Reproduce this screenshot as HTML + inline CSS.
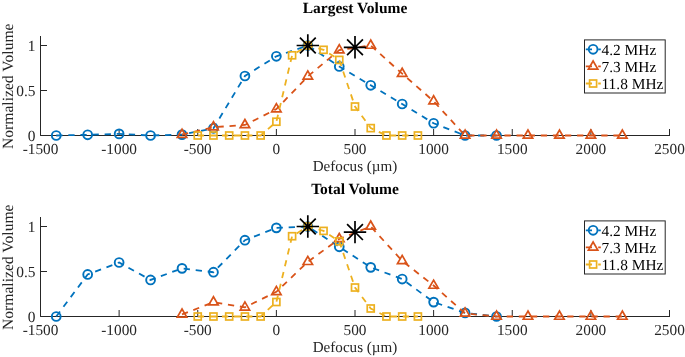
<!DOCTYPE html>
<html><head><meta charset="utf-8"><style>
html,body{margin:0;padding:0;background:#fff;}
svg{display:block;will-change:transform;}
text{text-rendering:geometricPrecision;font-family:"Liberation Serif", serif;font-size:14.7px;fill:#262626;}
</style></head><body>
<svg width="685" height="357" viewBox="0 0 685 357">
<rect width="685" height="357" fill="#fff"/>
<path d="M40.5,36.50V135.5H669.5" fill="none" stroke="#262626" stroke-width="1" stroke-linecap="square"/>
<path d="M40.5,135.5h6.5" stroke="#262626" stroke-width="1"/>
<path d="M40.5,90.5h6.5" stroke="#262626" stroke-width="1"/>
<path d="M40.5,45.5h6.5" stroke="#262626" stroke-width="1"/>
<path d="M40.50,135.5v-6.5" stroke="#262626" stroke-width="1"/>
<path d="M119.12,135.5v-6.5" stroke="#262626" stroke-width="1"/>
<path d="M197.75,135.5v-6.5" stroke="#262626" stroke-width="1"/>
<path d="M276.38,135.5v-6.5" stroke="#262626" stroke-width="1"/>
<path d="M355.00,135.5v-6.5" stroke="#262626" stroke-width="1"/>
<path d="M433.62,135.5v-6.5" stroke="#262626" stroke-width="1"/>
<path d="M512.25,135.5v-6.5" stroke="#262626" stroke-width="1"/>
<path d="M590.88,135.5v-6.5" stroke="#262626" stroke-width="1"/>
<path d="M669.50,135.5v-6.5" stroke="#262626" stroke-width="1"/>
<text x="35.50" y="140.60" text-anchor="end" style="font-size:15.4px">0</text>
<text x="35.50" y="95.60" text-anchor="end" style="font-size:15.4px">0.5</text>
<text x="35.50" y="50.60" text-anchor="end" style="font-size:15.4px">1</text>
<text x="40.50" y="153.50" text-anchor="middle" style="font-size:15.3px">-1500</text>
<text x="119.12" y="153.50" text-anchor="middle" style="font-size:15.3px">-1000</text>
<text x="197.75" y="153.50" text-anchor="middle" style="font-size:15.3px">-500</text>
<text x="276.38" y="153.50" text-anchor="middle" style="font-size:15.3px">0</text>
<text x="355.00" y="153.50" text-anchor="middle" style="font-size:15.3px">500</text>
<text x="433.62" y="153.50" text-anchor="middle" style="font-size:15.3px">1000</text>
<text x="512.25" y="153.50" text-anchor="middle" style="font-size:15.3px">1500</text>
<text x="590.88" y="153.50" text-anchor="middle" style="font-size:15.3px">2000</text>
<text x="669.50" y="153.50" text-anchor="middle" style="font-size:15.3px">2500</text>
<text x="355.00" y="171.20" text-anchor="middle" style="font-size:15.1px">Defocus (&#181;m)</text>
<text transform="translate(13.05,86.25) rotate(-90)" text-anchor="middle" style="font-size:15.6px">Normalized Volume</text>
<text x="355.00" y="12.70" text-anchor="middle" font-weight="bold" style="font-size:15.5px;fill:#000">Largest Volume</text>
<polyline points="56.23,135.50 87.67,134.78 119.12,133.88 150.57,135.50 182.03,134.60 213.47,128.30 244.93,76.01 276.38,56.30 307.82,45.50 339.27,66.47 370.73,85.28 402.18,104.00 433.62,123.26 465.07,135.50 496.52,135.50" fill="none" stroke="#0072BD" stroke-width="1.8" stroke-dasharray="6.3,5.8"/>
<circle cx="56.23" cy="135.50" r="4.4" fill="none" stroke="#0072BD" stroke-width="1.9"/>
<circle cx="87.67" cy="134.78" r="4.4" fill="none" stroke="#0072BD" stroke-width="1.9"/>
<circle cx="119.12" cy="133.88" r="4.4" fill="none" stroke="#0072BD" stroke-width="1.9"/>
<circle cx="150.57" cy="135.50" r="4.4" fill="none" stroke="#0072BD" stroke-width="1.9"/>
<circle cx="182.03" cy="134.60" r="4.4" fill="none" stroke="#0072BD" stroke-width="1.9"/>
<circle cx="213.47" cy="128.30" r="4.4" fill="none" stroke="#0072BD" stroke-width="1.9"/>
<circle cx="244.93" cy="76.01" r="4.4" fill="none" stroke="#0072BD" stroke-width="1.9"/>
<circle cx="276.38" cy="56.30" r="4.4" fill="none" stroke="#0072BD" stroke-width="1.9"/>
<circle cx="307.82" cy="45.50" r="4.4" fill="none" stroke="#0072BD" stroke-width="1.9"/>
<circle cx="339.27" cy="66.47" r="4.4" fill="none" stroke="#0072BD" stroke-width="1.9"/>
<circle cx="370.73" cy="85.28" r="4.4" fill="none" stroke="#0072BD" stroke-width="1.9"/>
<circle cx="402.18" cy="104.00" r="4.4" fill="none" stroke="#0072BD" stroke-width="1.9"/>
<circle cx="433.62" cy="123.26" r="4.4" fill="none" stroke="#0072BD" stroke-width="1.9"/>
<circle cx="465.07" cy="135.50" r="4.4" fill="none" stroke="#0072BD" stroke-width="1.9"/>
<circle cx="496.52" cy="135.50" r="4.4" fill="none" stroke="#0072BD" stroke-width="1.9"/>
<polyline points="182.03,134.69 213.47,127.22 244.93,124.97 276.38,109.13 307.82,76.37 339.27,50.09 370.73,45.50 402.18,73.67 433.62,101.21 465.07,135.50 496.52,135.50 527.98,135.50 559.42,135.50 590.88,135.50 622.33,135.50" fill="none" stroke="#D95319" stroke-width="1.8" stroke-dasharray="6.3,5.8"/>
<polygon points="182.03,129.24 177.31,137.41 186.74,137.41" fill="none" stroke="#D95319" stroke-width="1.7" stroke-linejoin="miter"/>
<polygon points="213.47,121.77 208.76,129.94 218.19,129.94" fill="none" stroke="#D95319" stroke-width="1.7" stroke-linejoin="miter"/>
<polygon points="244.93,119.52 240.21,127.69 249.64,127.69" fill="none" stroke="#D95319" stroke-width="1.7" stroke-linejoin="miter"/>
<polygon points="276.38,103.68 271.66,111.85 281.09,111.85" fill="none" stroke="#D95319" stroke-width="1.7" stroke-linejoin="miter"/>
<polygon points="307.82,70.92 303.11,79.09 312.54,79.09" fill="none" stroke="#D95319" stroke-width="1.7" stroke-linejoin="miter"/>
<polygon points="339.27,44.64 334.56,52.82 343.99,52.82" fill="none" stroke="#D95319" stroke-width="1.7" stroke-linejoin="miter"/>
<polygon points="370.73,40.05 366.01,48.23 375.44,48.23" fill="none" stroke="#D95319" stroke-width="1.7" stroke-linejoin="miter"/>
<polygon points="402.18,68.22 397.46,76.39 406.89,76.39" fill="none" stroke="#D95319" stroke-width="1.7" stroke-linejoin="miter"/>
<polygon points="433.62,95.76 428.91,103.94 438.34,103.94" fill="none" stroke="#D95319" stroke-width="1.7" stroke-linejoin="miter"/>
<polygon points="465.07,130.05 460.36,138.22 469.79,138.22" fill="none" stroke="#D95319" stroke-width="1.7" stroke-linejoin="miter"/>
<polygon points="496.52,130.05 491.81,138.22 501.24,138.22" fill="none" stroke="#D95319" stroke-width="1.7" stroke-linejoin="miter"/>
<polygon points="527.98,130.05 523.26,138.22 532.69,138.22" fill="none" stroke="#D95319" stroke-width="1.7" stroke-linejoin="miter"/>
<polygon points="559.42,130.05 554.71,138.22 564.14,138.22" fill="none" stroke="#D95319" stroke-width="1.7" stroke-linejoin="miter"/>
<polygon points="590.88,130.05 586.16,138.22 595.59,138.22" fill="none" stroke="#D95319" stroke-width="1.7" stroke-linejoin="miter"/>
<polygon points="622.33,130.05 617.61,138.22 627.04,138.22" fill="none" stroke="#D95319" stroke-width="1.7" stroke-linejoin="miter"/>
<polyline points="197.75,135.50 213.47,135.50 229.20,135.50 244.93,135.50 260.65,135.50 276.38,121.73 292.10,55.31 307.82,45.50 323.55,49.82 339.27,59.90 355.00,106.52 370.73,128.12 386.45,135.50 402.18,135.50 417.90,135.50" fill="none" stroke="#EDB120" stroke-width="1.8" stroke-dasharray="6.3,5.8"/>
<rect x="194.25" y="132.00" width="7.0" height="7.0" fill="none" stroke="#EDB120" stroke-width="1.7"/>
<rect x="209.97" y="132.00" width="7.0" height="7.0" fill="none" stroke="#EDB120" stroke-width="1.7"/>
<rect x="225.70" y="132.00" width="7.0" height="7.0" fill="none" stroke="#EDB120" stroke-width="1.7"/>
<rect x="241.43" y="132.00" width="7.0" height="7.0" fill="none" stroke="#EDB120" stroke-width="1.7"/>
<rect x="257.15" y="132.00" width="7.0" height="7.0" fill="none" stroke="#EDB120" stroke-width="1.7"/>
<rect x="272.88" y="118.23" width="7.0" height="7.0" fill="none" stroke="#EDB120" stroke-width="1.7"/>
<rect x="288.60" y="51.81" width="7.0" height="7.0" fill="none" stroke="#EDB120" stroke-width="1.7"/>
<rect x="304.32" y="42.00" width="7.0" height="7.0" fill="none" stroke="#EDB120" stroke-width="1.7"/>
<rect x="320.05" y="46.32" width="7.0" height="7.0" fill="none" stroke="#EDB120" stroke-width="1.7"/>
<rect x="335.77" y="56.40" width="7.0" height="7.0" fill="none" stroke="#EDB120" stroke-width="1.7"/>
<rect x="351.50" y="103.02" width="7.0" height="7.0" fill="none" stroke="#EDB120" stroke-width="1.7"/>
<rect x="367.23" y="124.62" width="7.0" height="7.0" fill="none" stroke="#EDB120" stroke-width="1.7"/>
<rect x="382.95" y="132.00" width="7.0" height="7.0" fill="none" stroke="#EDB120" stroke-width="1.7"/>
<rect x="398.68" y="132.00" width="7.0" height="7.0" fill="none" stroke="#EDB120" stroke-width="1.7"/>
<rect x="414.40" y="132.00" width="7.0" height="7.0" fill="none" stroke="#EDB120" stroke-width="1.7"/>
<path d="M296.62,45.50L319.02,45.50M299.91,37.58L315.74,53.42M307.82,34.30L307.82,56.70M315.74,37.58L299.91,53.42" stroke="#000" stroke-width="1.7" fill="none"/>
<path d="M343.80,47.30L366.20,47.30M347.08,39.38L362.92,55.22M355.00,36.10L355.00,58.50M362.92,39.38L347.08,55.22" stroke="#000" stroke-width="1.7" fill="none"/>
<rect x="584.5" y="39.90" width="80.7" height="53.1" fill="#fff" stroke="#262626" stroke-width="1"/>
<path d="M585.8,49.30H600.8" stroke="#0072BD" stroke-width="1.8" stroke-dasharray="6.2,6.2"/>
<circle cx="593.10" cy="49.30" r="4.4" fill="none" stroke="#0072BD" stroke-width="1.9"/>
<text x="601.5" y="54.60" style="font-size:15.4px;fill:#000">4.2 MHz</text>
<path d="M585.8,66.40H600.8" stroke="#D95319" stroke-width="1.8" stroke-dasharray="6.2,6.2"/>
<polygon points="593.10,60.95 588.38,69.12 597.82,69.12" fill="none" stroke="#D95319" stroke-width="1.7" stroke-linejoin="miter"/>
<text x="601.5" y="71.70" style="font-size:15.4px;fill:#000">7.3 MHz</text>
<path d="M585.8,83.50H600.8" stroke="#EDB120" stroke-width="1.8" stroke-dasharray="6.2,6.2"/>
<rect x="589.60" y="80.00" width="7.0" height="7.0" fill="none" stroke="#EDB120" stroke-width="1.7"/>
<text x="601.5" y="88.80" style="font-size:15.4px;fill:#000">11.8 MHz</text>
<path d="M40.5,217.50V316.5H669.5" fill="none" stroke="#262626" stroke-width="1" stroke-linecap="square"/>
<path d="M40.5,316.5h6.5" stroke="#262626" stroke-width="1"/>
<path d="M40.5,271.5h6.5" stroke="#262626" stroke-width="1"/>
<path d="M40.5,226.5h6.5" stroke="#262626" stroke-width="1"/>
<path d="M40.50,316.5v-6.5" stroke="#262626" stroke-width="1"/>
<path d="M119.12,316.5v-6.5" stroke="#262626" stroke-width="1"/>
<path d="M197.75,316.5v-6.5" stroke="#262626" stroke-width="1"/>
<path d="M276.38,316.5v-6.5" stroke="#262626" stroke-width="1"/>
<path d="M355.00,316.5v-6.5" stroke="#262626" stroke-width="1"/>
<path d="M433.62,316.5v-6.5" stroke="#262626" stroke-width="1"/>
<path d="M512.25,316.5v-6.5" stroke="#262626" stroke-width="1"/>
<path d="M590.88,316.5v-6.5" stroke="#262626" stroke-width="1"/>
<path d="M669.50,316.5v-6.5" stroke="#262626" stroke-width="1"/>
<text x="35.50" y="321.60" text-anchor="end" style="font-size:15.4px">0</text>
<text x="35.50" y="276.60" text-anchor="end" style="font-size:15.4px">0.5</text>
<text x="35.50" y="231.60" text-anchor="end" style="font-size:15.4px">1</text>
<text x="40.50" y="334.50" text-anchor="middle" style="font-size:15.3px">-1500</text>
<text x="119.12" y="334.50" text-anchor="middle" style="font-size:15.3px">-1000</text>
<text x="197.75" y="334.50" text-anchor="middle" style="font-size:15.3px">-500</text>
<text x="276.38" y="334.50" text-anchor="middle" style="font-size:15.3px">0</text>
<text x="355.00" y="334.50" text-anchor="middle" style="font-size:15.3px">500</text>
<text x="433.62" y="334.50" text-anchor="middle" style="font-size:15.3px">1000</text>
<text x="512.25" y="334.50" text-anchor="middle" style="font-size:15.3px">1500</text>
<text x="590.88" y="334.50" text-anchor="middle" style="font-size:15.3px">2000</text>
<text x="669.50" y="334.50" text-anchor="middle" style="font-size:15.3px">2500</text>
<text x="355.00" y="352.20" text-anchor="middle" style="font-size:15.1px">Defocus (&#181;m)</text>
<text transform="translate(13.05,267.25) rotate(-90)" text-anchor="middle" style="font-size:15.6px">Normalized Volume</text>
<text x="355.00" y="193.70" text-anchor="middle" font-weight="bold" style="font-size:15.5px;fill:#000">Total Volume</text>
<polyline points="56.23,316.50 87.67,274.47 119.12,262.50 150.57,279.96 182.03,268.35 213.47,272.22 244.93,240.18 276.38,227.85 307.82,226.50 339.27,246.84 370.73,267.36 402.18,279.06 433.62,302.10 465.07,312.90 496.52,316.50" fill="none" stroke="#0072BD" stroke-width="1.8" stroke-dasharray="6.3,5.8"/>
<circle cx="56.23" cy="316.50" r="4.4" fill="none" stroke="#0072BD" stroke-width="1.9"/>
<circle cx="87.67" cy="274.47" r="4.4" fill="none" stroke="#0072BD" stroke-width="1.9"/>
<circle cx="119.12" cy="262.50" r="4.4" fill="none" stroke="#0072BD" stroke-width="1.9"/>
<circle cx="150.57" cy="279.96" r="4.4" fill="none" stroke="#0072BD" stroke-width="1.9"/>
<circle cx="182.03" cy="268.35" r="4.4" fill="none" stroke="#0072BD" stroke-width="1.9"/>
<circle cx="213.47" cy="272.22" r="4.4" fill="none" stroke="#0072BD" stroke-width="1.9"/>
<circle cx="244.93" cy="240.18" r="4.4" fill="none" stroke="#0072BD" stroke-width="1.9"/>
<circle cx="276.38" cy="227.85" r="4.4" fill="none" stroke="#0072BD" stroke-width="1.9"/>
<circle cx="307.82" cy="226.50" r="4.4" fill="none" stroke="#0072BD" stroke-width="1.9"/>
<circle cx="339.27" cy="246.84" r="4.4" fill="none" stroke="#0072BD" stroke-width="1.9"/>
<circle cx="370.73" cy="267.36" r="4.4" fill="none" stroke="#0072BD" stroke-width="1.9"/>
<circle cx="402.18" cy="279.06" r="4.4" fill="none" stroke="#0072BD" stroke-width="1.9"/>
<circle cx="433.62" cy="302.10" r="4.4" fill="none" stroke="#0072BD" stroke-width="1.9"/>
<circle cx="465.07" cy="312.90" r="4.4" fill="none" stroke="#0072BD" stroke-width="1.9"/>
<circle cx="496.52" cy="316.50" r="4.4" fill="none" stroke="#0072BD" stroke-width="1.9"/>
<polyline points="182.03,314.43 213.47,302.19 244.93,307.32 276.38,291.84 307.82,261.78 339.27,238.92 370.73,226.50 402.18,260.88 433.62,285.54 465.07,313.35 496.52,316.50 527.98,316.50 559.42,316.50 590.88,316.50 622.33,316.50" fill="none" stroke="#D95319" stroke-width="1.8" stroke-dasharray="6.3,5.8"/>
<polygon points="182.03,308.98 177.31,317.16 186.74,317.16" fill="none" stroke="#D95319" stroke-width="1.7" stroke-linejoin="miter"/>
<polygon points="213.47,296.74 208.76,304.92 218.19,304.92" fill="none" stroke="#D95319" stroke-width="1.7" stroke-linejoin="miter"/>
<polygon points="244.93,301.87 240.21,310.05 249.64,310.05" fill="none" stroke="#D95319" stroke-width="1.7" stroke-linejoin="miter"/>
<polygon points="276.38,286.39 271.66,294.56 281.09,294.56" fill="none" stroke="#D95319" stroke-width="1.7" stroke-linejoin="miter"/>
<polygon points="307.82,256.33 303.11,264.50 312.54,264.50" fill="none" stroke="#D95319" stroke-width="1.7" stroke-linejoin="miter"/>
<polygon points="339.27,233.47 334.56,241.65 343.99,241.65" fill="none" stroke="#D95319" stroke-width="1.7" stroke-linejoin="miter"/>
<polygon points="370.73,221.05 366.01,229.22 375.44,229.22" fill="none" stroke="#D95319" stroke-width="1.7" stroke-linejoin="miter"/>
<polygon points="402.18,255.43 397.46,263.61 406.89,263.61" fill="none" stroke="#D95319" stroke-width="1.7" stroke-linejoin="miter"/>
<polygon points="433.62,280.09 428.91,288.27 438.34,288.27" fill="none" stroke="#D95319" stroke-width="1.7" stroke-linejoin="miter"/>
<polygon points="465.07,307.90 460.36,316.08 469.79,316.08" fill="none" stroke="#D95319" stroke-width="1.7" stroke-linejoin="miter"/>
<polygon points="496.52,311.05 491.81,319.23 501.24,319.23" fill="none" stroke="#D95319" stroke-width="1.7" stroke-linejoin="miter"/>
<polygon points="527.98,311.05 523.26,319.23 532.69,319.23" fill="none" stroke="#D95319" stroke-width="1.7" stroke-linejoin="miter"/>
<polygon points="559.42,311.05 554.71,319.23 564.14,319.23" fill="none" stroke="#D95319" stroke-width="1.7" stroke-linejoin="miter"/>
<polygon points="590.88,311.05 586.16,319.23 595.59,319.23" fill="none" stroke="#D95319" stroke-width="1.7" stroke-linejoin="miter"/>
<polygon points="622.33,311.05 617.61,319.23 627.04,319.23" fill="none" stroke="#D95319" stroke-width="1.7" stroke-linejoin="miter"/>
<polyline points="197.75,316.50 213.47,316.50 229.20,316.50 244.93,316.50 260.65,316.50 276.38,302.01 292.10,236.22 307.82,226.50 323.55,230.91 339.27,241.35 355.00,287.52 370.73,308.49 386.45,316.50 402.18,316.50 417.90,316.50" fill="none" stroke="#EDB120" stroke-width="1.8" stroke-dasharray="6.3,5.8"/>
<rect x="194.25" y="313.00" width="7.0" height="7.0" fill="none" stroke="#EDB120" stroke-width="1.7"/>
<rect x="209.97" y="313.00" width="7.0" height="7.0" fill="none" stroke="#EDB120" stroke-width="1.7"/>
<rect x="225.70" y="313.00" width="7.0" height="7.0" fill="none" stroke="#EDB120" stroke-width="1.7"/>
<rect x="241.43" y="313.00" width="7.0" height="7.0" fill="none" stroke="#EDB120" stroke-width="1.7"/>
<rect x="257.15" y="313.00" width="7.0" height="7.0" fill="none" stroke="#EDB120" stroke-width="1.7"/>
<rect x="272.88" y="298.51" width="7.0" height="7.0" fill="none" stroke="#EDB120" stroke-width="1.7"/>
<rect x="288.60" y="232.72" width="7.0" height="7.0" fill="none" stroke="#EDB120" stroke-width="1.7"/>
<rect x="304.32" y="223.00" width="7.0" height="7.0" fill="none" stroke="#EDB120" stroke-width="1.7"/>
<rect x="320.05" y="227.41" width="7.0" height="7.0" fill="none" stroke="#EDB120" stroke-width="1.7"/>
<rect x="335.77" y="237.85" width="7.0" height="7.0" fill="none" stroke="#EDB120" stroke-width="1.7"/>
<rect x="351.50" y="284.02" width="7.0" height="7.0" fill="none" stroke="#EDB120" stroke-width="1.7"/>
<rect x="367.23" y="304.99" width="7.0" height="7.0" fill="none" stroke="#EDB120" stroke-width="1.7"/>
<rect x="382.95" y="313.00" width="7.0" height="7.0" fill="none" stroke="#EDB120" stroke-width="1.7"/>
<rect x="398.68" y="313.00" width="7.0" height="7.0" fill="none" stroke="#EDB120" stroke-width="1.7"/>
<rect x="414.40" y="313.00" width="7.0" height="7.0" fill="none" stroke="#EDB120" stroke-width="1.7"/>
<path d="M296.62,226.50L319.02,226.50M299.91,218.58L315.74,234.42M307.82,215.30L307.82,237.70M315.74,218.58L299.91,234.42" stroke="#000" stroke-width="1.7" fill="none"/>
<path d="M343.80,232.08L366.20,232.08M347.08,224.16L362.92,240.00M355.00,220.88L355.00,243.28M362.92,224.16L347.08,240.00" stroke="#000" stroke-width="1.7" fill="none"/>
<rect x="584.5" y="220.90" width="80.7" height="53.1" fill="#fff" stroke="#262626" stroke-width="1"/>
<path d="M585.8,230.30H600.8" stroke="#0072BD" stroke-width="1.8" stroke-dasharray="6.2,6.2"/>
<circle cx="593.10" cy="230.30" r="4.4" fill="none" stroke="#0072BD" stroke-width="1.9"/>
<text x="601.5" y="235.60" style="font-size:15.4px;fill:#000">4.2 MHz</text>
<path d="M585.8,247.40H600.8" stroke="#D95319" stroke-width="1.8" stroke-dasharray="6.2,6.2"/>
<polygon points="593.10,241.95 588.38,250.12 597.82,250.12" fill="none" stroke="#D95319" stroke-width="1.7" stroke-linejoin="miter"/>
<text x="601.5" y="252.70" style="font-size:15.4px;fill:#000">7.3 MHz</text>
<path d="M585.8,264.50H600.8" stroke="#EDB120" stroke-width="1.8" stroke-dasharray="6.2,6.2"/>
<rect x="589.60" y="261.00" width="7.0" height="7.0" fill="none" stroke="#EDB120" stroke-width="1.7"/>
<text x="601.5" y="269.80" style="font-size:15.4px;fill:#000">11.8 MHz</text>
</svg>
</body></html>
